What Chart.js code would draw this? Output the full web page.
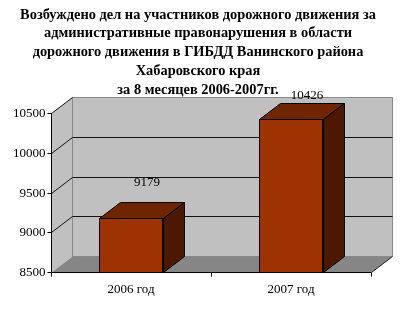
<!DOCTYPE html>
<html>
<head>
<meta charset="utf-8">
<script src="https://cdn.jsdelivr.net/npm/chart.js@4"></script>
<style>
    body { margin: 0; background: #fff; }
</style>
</head>
<body>
<canvas id="myChart" width="415" height="309"></canvas>
<script>
const titleLines = [
    "Возбуждено дел на участников дорожного движения за",
    "административные правонарушения в области",
    "дорожного движения в ГИБДД Ванинского района",
    "Хабаровского края",
    "за 8 месяцев 2006-2007гг."
];
const categories = ["2006 год", "2007 год"];
const cases = [9179, 10426];
const yTicks = [8500, 9000, 9500, 10000, 10500];

// 3d depth of the box (back wall offset)
const DX = 21, DY = -16;
const serif = "'Liberation Serif', 'Times New Roman', serif";

function poly(ctx, pts, fill, stroke) {
    ctx.beginPath();
    ctx.moveTo(pts[0][0], pts[0][1]);
    for (let i = 1; i < pts.length; i++) ctx.lineTo(pts[i][0], pts[i][1]);
    ctx.closePath();
    if (fill) { ctx.fillStyle = fill; ctx.fill(); }
    if (stroke) { ctx.strokeStyle = stroke; ctx.lineWidth = 1; ctx.stroke(); }
}

function line(ctx, x1, y1, x2, y2, color) {
    ctx.beginPath();
    ctx.moveTo(x1, y1);
    ctx.lineTo(x2, y2);
    ctx.strokeStyle = color;
    ctx.lineWidth = 1;
    ctx.stroke();
}

const box3d = {
    id: "box3d",
    beforeDatasetsDraw(chart) {
        const { ctx, chartArea: a, scales: { x, y } } = chart;
        const L = Math.round(a.left) + 0.5, R = Math.round(a.right) + 0.5;
        const T = Math.round(a.top) + 0.5, B = Math.round(a.bottom) + 0.5;
        ctx.save();

        // title
        ctx.fillStyle = "#000";
        ctx.font = "bold 14.4px " + serif;
        ctx.textAlign = "center";
        ctx.textBaseline = "middle";
        titleLines.forEach((t, i) => ctx.fillText(t, 198, 15 + i * 18.75));

        // walls and floor
        poly(ctx, [[L, B], [L + DX, B + DY], [L + DX, T + DY], [L, T]], "#c0c0c0", null);
        poly(ctx, [[L + DX, B + DY], [R + DX, B + DY], [R + DX, T + DY], [L + DX, T + DY]], "#c0c0c0", "#8a8a8a");
        poly(ctx, [[L, B], [R, B], [R + DX, B + DY], [L + DX, B + DY]], "#868686", null);
        line(ctx, L + DX, T + DY, L + DX, B + DY, "#8a8a8a");
        line(ctx, R, B, R + DX, B + DY, "#222");

        // gridlines
        y.ticks.forEach((t) => {
            const py = Math.round(y.getPixelForValue(t.value)) + 0.5;
            if (t.value === yTicks[0]) return;
            line(ctx, L, py, L + DX, py + DY, "#111");
            if (t.value !== yTicks[yTicks.length - 1]) line(ctx, L + DX, py + DY, R + DX, py + DY, "#111");
        });

        // y axis
        line(ctx, L, T, L, B, "#000");
        ctx.fillStyle = "#000";
        ctx.font = "13px " + serif;
        ctx.textAlign = "right";
        y.ticks.forEach((t) => {
            const py = Math.round(y.getPixelForValue(t.value)) + 0.5;
            line(ctx, L - 4, py, L, py, "#000");
            ctx.fillText(String(t.value), L - 6, py);
        });

        // x axis
        line(ctx, L, B, R, B, "#000");
        ctx.textAlign = "center";
        const step = x.getPixelForValue(1) - x.getPixelForValue(0);
        for (let i = 0; i <= categories.length; i++) {
            const px = Math.round(x.getPixelForValue(0) - step / 2 + i * step) + 0.5;
            line(ctx, px, B, px, B + 4, "#000");
        }
        categories.forEach((c, i) => {
            ctx.fillText(c, x.getPixelForValue(i), B + 17);
        });
        ctx.restore();
    },
    afterDatasetsDraw(chart) {
        const { ctx, scales: { y } } = chart;
        const meta = chart.getDatasetMeta(0);
        const lift = [35, 23];
        const b = Math.round(y.getPixelForValue(yTicks[0])) + 0.5;
        ctx.save();
        meta.data.forEach((bar, i) => {
            const l = Math.round(bar.x - bar.width / 2) + 0.5;
            const r = Math.round(bar.x + bar.width / 2) + 0.5;
            const t = Math.round(bar.y) + 0.5;
            poly(ctx, [[l, t], [r, t], [r + DX, t + DY], [l + DX, t + DY]], "#6e2500", "#000");
            poly(ctx, [[r, t], [r + DX, t + DY], [r + DX, b + DY], [r, b]], "#4c1900", "#000");
            ctx.fillStyle = "#000";
            ctx.font = "13px " + serif;
            ctx.textAlign = "center";
            ctx.textBaseline = "middle";
            ctx.fillText(String(cases[i]), bar.x + 16, bar.y - lift[i]);
        });
        ctx.restore();
    }
};

const myChart = new Chart(document.getElementById("myChart"), {
    type: "bar",
    data: {
        labels: categories,
        datasets: [
            {
                data: cases,
                backgroundColor: "#9c3300",
                borderColor: "#000",
                borderWidth: 1,
                borderSkipped: false,
                barPercentage: 0.4,
                categoryPercentage: 1
            }
        ]
    },
    options: {
        responsive: false,
        animation: false,
        layout: { padding: { left: 51, right: 44, top: 113, bottom: 37 } },
        scales: {
            x: { display: false },
            y: {
                display: false,
                min: yTicks[0],
                max: yTicks[yTicks.length - 1],
                ticks: { stepSize: 500 }
            }
        },
        plugins: {
            legend: { display: false },
            tooltip: { enabled: false },
            title: { display: false }
        }
    },
    plugins: [box3d]
});
</script>
</body>
</html>
